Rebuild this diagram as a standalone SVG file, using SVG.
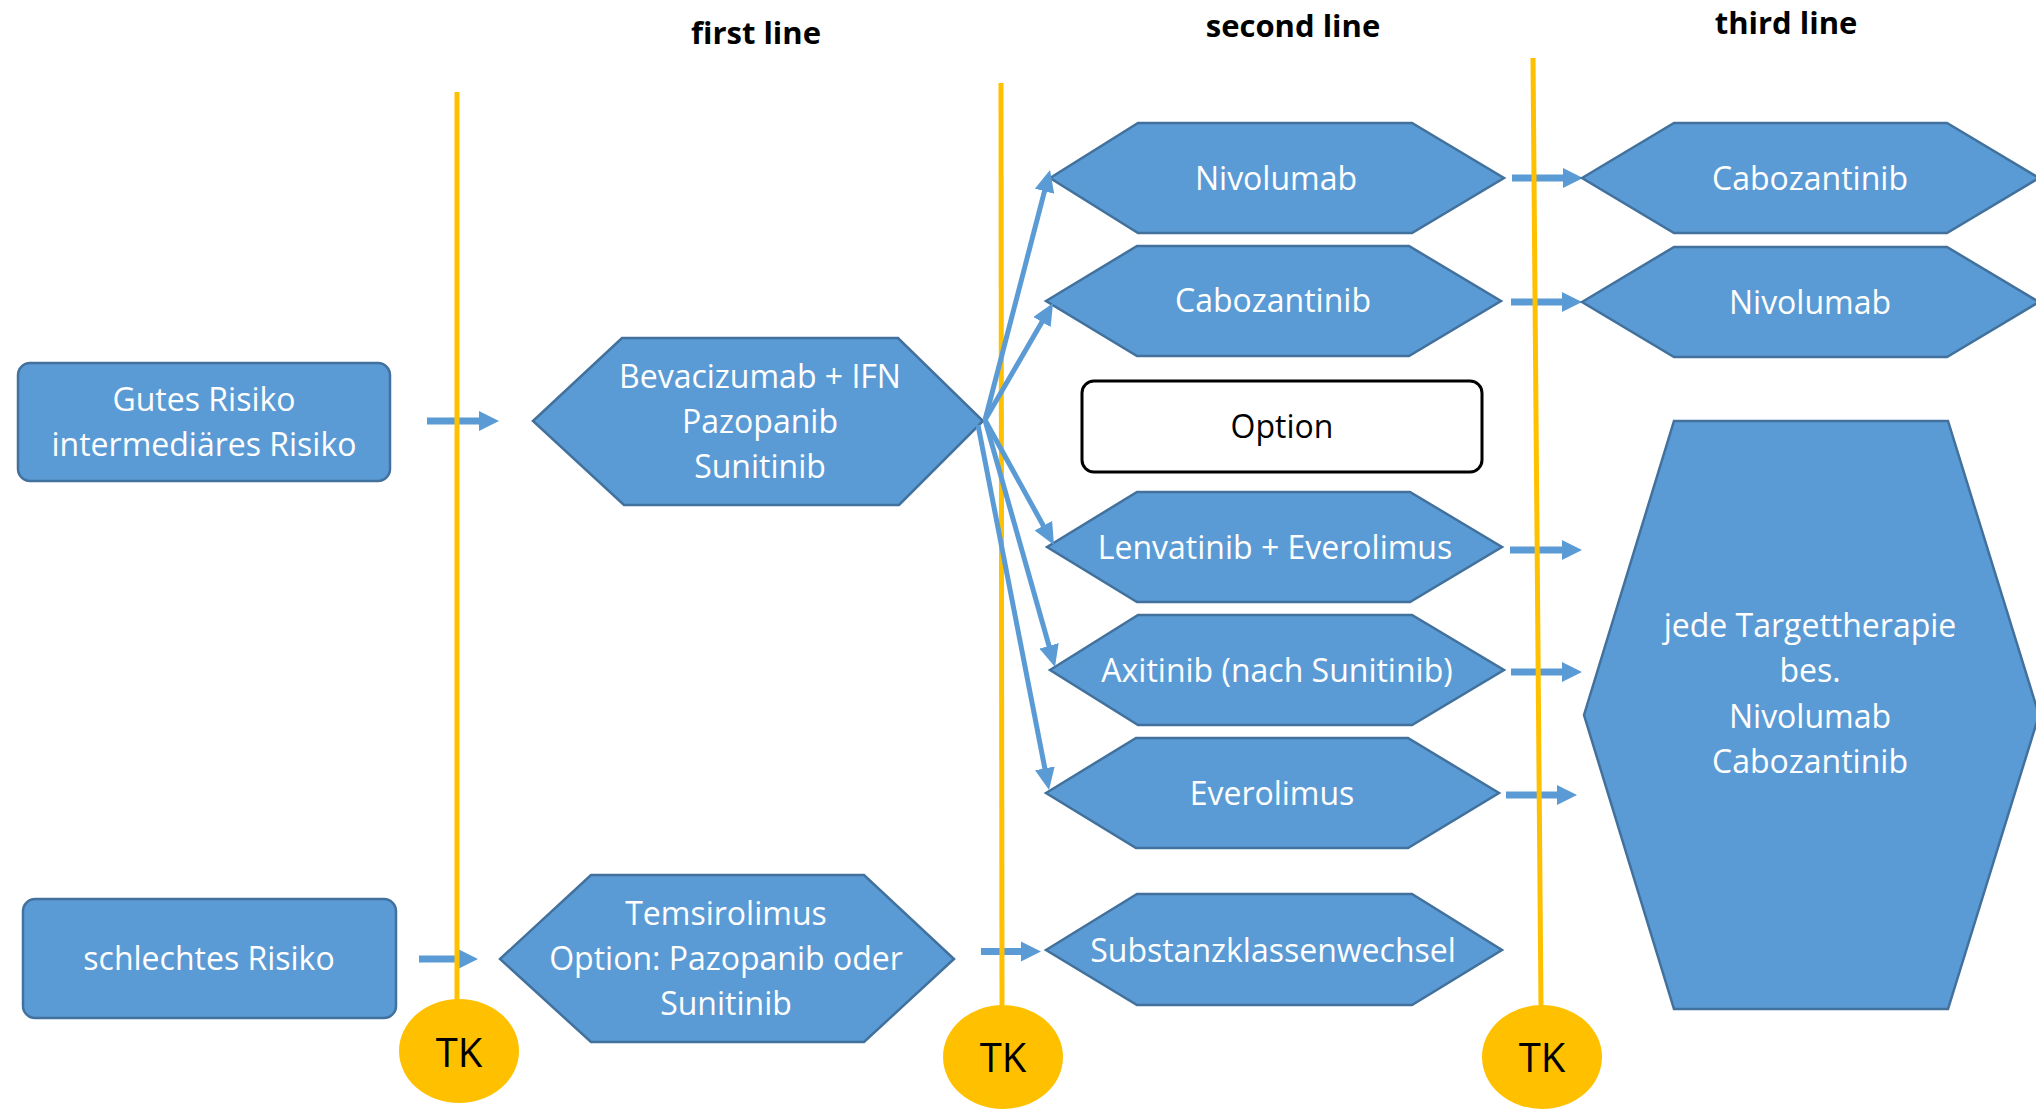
<svg xmlns="http://www.w3.org/2000/svg" width="2036" height="1110" viewBox="0 0 2036 1110">
<defs>
<style>
.n{fill:#5B9BD5;stroke:#41719C;stroke-width:2.5}
.t{font-family:"Open Sans","Liberation Sans",sans-serif;font-size:32px;fill:#fff;text-anchor:middle}
.k{font-family:"Open Sans","Liberation Sans",sans-serif;font-size:32px;fill:#000;text-anchor:middle}
.h{font-family:"Open Sans","Liberation Sans",sans-serif;font-size:31px;font-weight:bold;fill:#000;text-anchor:middle}
.tk{font-family:"Open Sans","Liberation Sans",sans-serif;font-size:40px;fill:#000;text-anchor:middle}
.y{stroke:#FFC000;stroke-width:5;fill:none}
.ba{fill:#5B9BD5}
.ta{stroke:#5B9BD5;stroke-width:5;fill:none;marker-end:url(#ah)}
</style>
<marker id="ah" markerUnits="userSpaceOnUse" viewBox="0 0 22 20" refX="4" refY="10" markerWidth="22" markerHeight="20" orient="auto">
<path d="M0,0 L22,10 L0,20 z" fill="#5B9BD5"/>
</marker>
</defs>
<rect width="2036" height="1110" fill="#fff"/>

<g id="titles">
<text class="h" x="756" y="44">first line</text>
<text class="h" x="1293" y="37">second line</text>
<text class="h" x="1786" y="34">third line</text>
</g>

<g id="connectors-block">
<polygon class="ba" points="427,417.5 479,417.5 479,411 499,421 479,431 479,424.5 427,424.5"/>
<polygon class="ba" points="419,955.5 458,955.5 458,949 478,959 458,969 458,962.5 419,962.5"/>
<polygon class="ba" points="981,948 1021,948 1021,941.5 1041,951.5 1021,961.5 1021,955 981,955"/>
<polygon class="ba" points="1512,174.5 1563,174.5 1563,168 1583,178 1563,188 1563,181.5 1512,181.5"/>
<polygon class="ba" points="1511,298.5 1562,298.5 1562,292 1582,302 1562,312 1562,305.5 1511,305.5"/>
<polygon class="ba" points="1510,546.5 1562,546.5 1562,540 1582,550 1562,560 1562,553.5 1510,553.5"/>
<polygon class="ba" points="1511,668.5 1562,668.5 1562,662 1582,672 1562,682 1562,675.5 1511,675.5"/>
<polygon class="ba" points="1506,791.5 1557,791.5 1557,785 1577,795 1557,805 1557,798.5 1506,798.5"/>
</g>

<g id="timelines">
<line class="y" x1="457" y1="92" x2="457" y2="1000"/>
<line class="y" x1="1001" y1="83" x2="1002" y2="1006"/>
<line class="y" x1="1533" y1="58" x2="1541" y2="1006"/>
</g>

<g id="gutes">
<rect class="n" x="18" y="363" width="372" height="118" rx="12"/>
<text class="t" x="204" y="411">Gutes Risiko</text>
<text class="t" x="204" y="456">intermediäres Risiko</text>
</g>

<g id="schlechtes">
<rect class="n" x="23" y="899" width="373" height="119" rx="12"/>
<text class="t" x="209" y="970">schlechtes Risiko</text>
</g>

<g id="bevacizumab">
<polygon class="n" points="533,421 622,338 898,338 983,421 899,505 624,505"/>
<text class="t" x="760" y="388">Bevacizumab + IFN</text>
<text class="t" x="760" y="433">Pazopanib</text>
<text class="t" x="760" y="478">Sunitinib</text>
</g>

<g id="temsirolimus">
<polygon class="n" points="500,959 591,875 864,875 954,959 864,1042 591,1042"/>
<text class="t" x="726" y="925">Temsirolimus</text>
<text class="t" x="726" y="970">Option: Pazopanib oder</text>
<text class="t" x="726" y="1015">Sunitinib</text>
</g>

<g id="nivolumab2">
<polygon class="n" points="1050,178 1138,123 1412,123 1504,178 1412,233 1138,233"/>
<text class="t" x="1276" y="190">Nivolumab</text>
</g>

<g id="cabozantinib2">
<polygon class="n" points="1046,301 1137,246 1409,246 1501,301 1409,356 1137,356"/>
<text class="t" x="1273" y="312">Cabozantinib</text>
</g>

<g id="option">
<rect x="1082" y="381" width="400" height="91" rx="12" fill="#fff" stroke="#000" stroke-width="3"/>
<text class="k" x="1282" y="438">Option</text>
</g>

<g id="lenvatinib">
<polygon class="n" points="1047,547 1137,492 1410,492 1502,547 1410,602 1137,602"/>
<text class="t" x="1275" y="559">Lenvatinib + Everolimus</text>
</g>

<g id="axitinib">
<polygon class="n" points="1050,670 1138,615 1412,615 1504,670 1412,725 1138,725"/>
<text class="t" x="1277" y="682">Axitinib (nach Sunitinib)</text>
</g>

<g id="everolimus">
<polygon class="n" points="1046,793 1136,738 1408,738 1499,793 1408,848 1136,848"/>
<text class="t" x="1272" y="805">Everolimus</text>
</g>

<g id="substanz">
<polygon class="n" points="1046,950 1137,894 1412,894 1502,950 1412,1005 1137,1005"/>
<text class="t" x="1273" y="962">Substanzklassenwechsel</text>
</g>

<g id="cabozantinib3">
<polygon class="n" points="1582,178 1674,123 1947,123 2039,178 1947,233 1674,233"/>
<text class="t" x="1810" y="190">Cabozantinib</text>
</g>

<g id="nivolumab3">
<polygon class="n" points="1582,302 1674,247 1947,247 2039,302 1947,357 1674,357"/>
<text class="t" x="1810" y="314">Nivolumab</text>
</g>

<g id="jede">
<polygon class="n" points="1584,715 1674,421 1948,421 2039,715 1948,1009 1674,1009"/>
<text class="t" x="1810" y="637">jede Targettherapie</text>
<text class="t" x="1810" y="682">bes.</text>
<text class="t" x="1810" y="728">Nivolumab</text>
<text class="t" x="1810" y="773">Cabozantinib</text>
</g>

<g id="connectors-thin">
<line class="ta" x1="985" y1="420" x2="1045.5" y2="187.4"/>
<line class="ta" x1="985" y1="420" x2="1044" y2="318.6"/>
<line class="ta" x1="985" y1="420" x2="1045.3" y2="529.2"/>
<line class="ta" x1="985" y1="420" x2="1050.1" y2="649.7"/>
<line class="ta" x1="978" y1="425" x2="1045.6" y2="772.3"/>
</g>

<g id="tk1">
<ellipse cx="459" cy="1051" rx="60" ry="52" fill="#FFC000"/>
<text class="tk" x="459" y="1067">TK</text>
</g>
<g id="tk2">
<ellipse cx="1003" cy="1057" rx="60" ry="52" fill="#FFC000"/>
<text class="tk" x="1003" y="1072">TK</text>
</g>
<g id="tk3">
<ellipse cx="1542" cy="1057" rx="60" ry="52" fill="#FFC000"/>
<text class="tk" x="1542" y="1072">TK</text>
</g>
</svg>
